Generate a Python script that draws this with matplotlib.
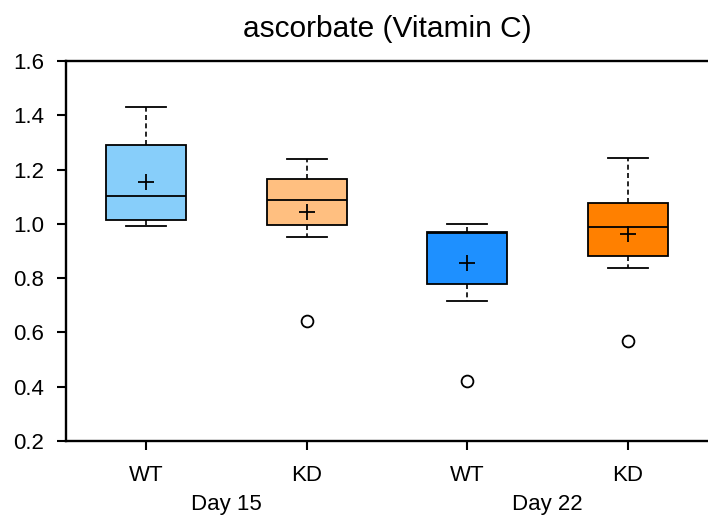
import matplotlib
matplotlib.use("Agg")
import matplotlib.pyplot as plt
from matplotlib.transforms import blended_transform_factory

plt.rcParams['font.family'] = ['Liberation Sans', 'DejaVu Sans']

# values
groups = ['WT', 'KD', 'WT', 'KD']
days = ['Day 15', 'Day 22']
whislo = [0.992, 0.953, 0.717, 0.839]
q1 = [1.014, 0.995, 0.778, 0.882]
med = [1.103, 1.088, 0.965, 0.987]
q3 = [1.291, 1.165, 0.970, 1.077]
whishi = [1.431, 1.238, 1.000, 1.242]
means = [1.154, 1.045, 0.855, 0.963]
fliers = [[], [0.643], [0.422], [0.568]]
colors = ['#87CEFA', '#FFBF80', '#1E90FF', '#FF8000']

stats = []
for i in range(len(groups)):
    stats.append(dict(label=groups[i], whislo=whislo[i], q1=q1[i], med=med[i],
                      q3=q3[i], whishi=whishi[i], mean=means[i], fliers=fliers[i]))

fig = plt.figure(figsize=(7.08, 5.16), dpi=100)
ax = fig.add_axes([0.0932, 0.1453, 0.9068, 0.7365])

bp = ax.bxp(stats, positions=[1, 2, 3, 4], widths=0.5, patch_artist=True,
            showmeans=True,
            boxprops=dict(linewidth=1.3, edgecolor='black'),
            medianprops=dict(color='black', linewidth=1.3),
            whiskerprops=dict(color='black', linewidth=1.2, linestyle=(0, (3, 2))),
            capprops=dict(color='black', linewidth=1.3),
            meanprops=dict(marker='+', markeredgecolor='black', markersize=11,
                           markeredgewidth=1.3),
            flierprops=dict(marker='o', markerfacecolor='white', markeredgecolor='black',
                            markersize=8.5, markeredgewidth=1.3))
for patch, c in zip(bp['boxes'], colors):
    patch.set_facecolor(c)

ax.set_xlim(0.5, 4.5)
ax.set_ylim(0.2, 1.6)
ax.set_yticks([0.2, 0.4, 0.6, 0.8, 1.0, 1.2, 1.4, 1.6])
ax.set_yticklabels(['0.2', '0.4', '0.6', '0.8', '1.0', '1.2', '1.4', '1.6'])
ax.set_xticks([1, 2, 3, 4])
ax.set_xticklabels(groups)

ax.spines['right'].set_visible(False)
for s in ['left', 'top', 'bottom']:
    ax.spines[s].set_linewidth(1.7)
ax.tick_params(axis='both', direction='out', length=6.5, width=1.5, labelsize=16)
ax.tick_params(axis='x', pad=10.5)
ax.tick_params(axis='y', pad=9.5)

trans = blended_transform_factory(ax.transData, fig.transFigure)
ax.text(1.5, 0.0116, days[0], transform=trans, ha='center', va='baseline', fontsize=16)
ax.text(3.5, 0.0116, days[1], transform=trans, ha='center', va='baseline', fontsize=16)

ax.set_title('ascorbate (Vitamin C)', fontsize=21.5, pad=17)

fig.savefig('out.png', dpi=100)
